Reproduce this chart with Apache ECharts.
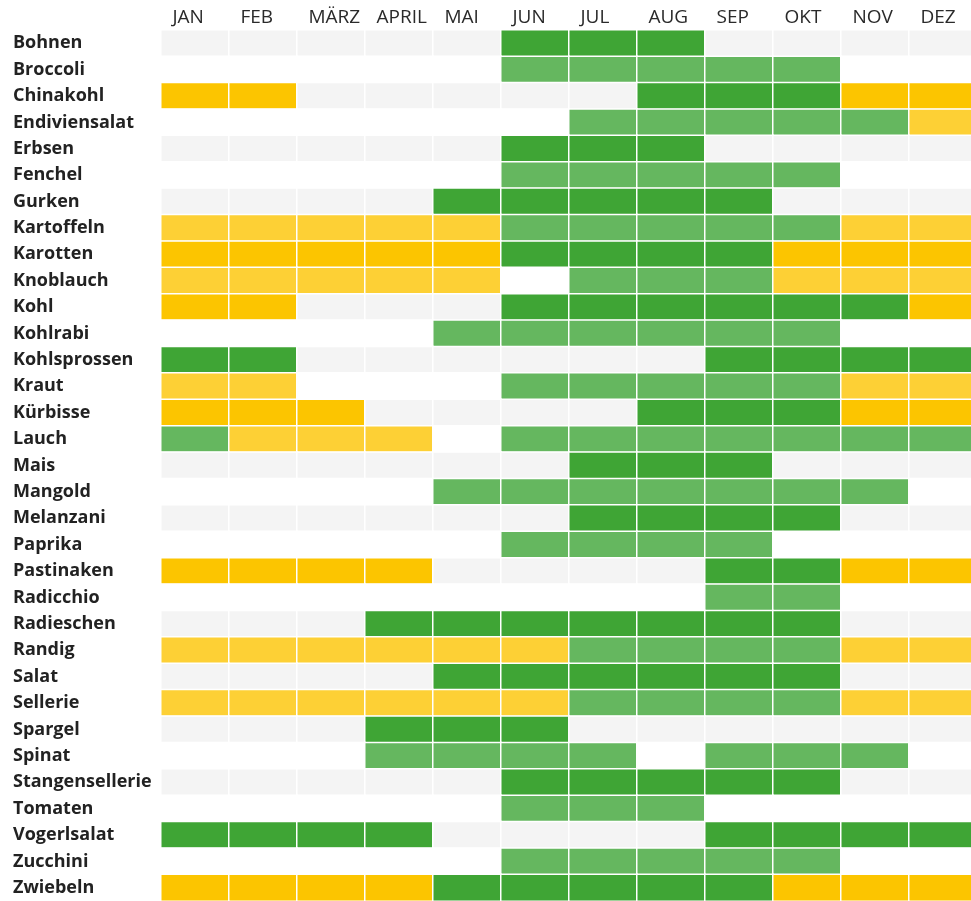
<!DOCTYPE html>
<html>
<head>
<meta charset="utf-8">
<script src="https://cdn.jsdelivr.net/npm/echarts@6/dist/echarts.min.js"></script>
<style>html,body{margin:0;padding:0;background:#fff;overflow:hidden;width:971px;height:901px;}#c{width:980px;height:901px;}</style>
</head>
<body>
<div id="c"></div>
<script>
const months = ['JAN','FEB','MÄRZ','APRIL','MAI','JUN','JUL','AUG','SEP','OKT','NOV','DEZ'];
const vegetables = ['Bohnen','Broccoli','Chinakohl','Endiviensalat','Erbsen','Fenchel','Gurken','Kartoffeln','Karotten','Knoblauch','Kohl','Kohlrabi','Kohlsprossen','Kraut','Kürbisse','Lauch','Mais','Mangold','Melanzani','Paprika','Pastinaken','Radicchio','Radieschen','Randig','Salat','Sellerie','Spargel','Spinat','Stangensellerie','Tomaten','Vogerlsalat','Zucchini','Zwiebeln'];
// 0 = none, 1 = light green, 2 = dark green, 3 = light yellow, 4 = dark yellow
const Bohnen          = [0,0,0,0,0,2,2,2,0,0,0,0];
const Broccoli        = [0,0,0,0,0,1,1,1,1,1,0,0];
const Chinakohl       = [4,4,0,0,0,0,0,2,2,2,4,4];
const Endiviensalat   = [0,0,0,0,0,0,1,1,1,1,1,3];
const Erbsen          = [0,0,0,0,0,2,2,2,0,0,0,0];
const Fenchel         = [0,0,0,0,0,1,1,1,1,1,0,0];
const Gurken          = [0,0,0,0,2,2,2,2,2,0,0,0];
const Kartoffeln      = [3,3,3,3,3,1,1,1,1,1,3,3];
const Karotten        = [4,4,4,4,4,2,2,2,2,4,4,4];
const Knoblauch       = [3,3,3,3,3,0,1,1,1,3,3,3];
const Kohl            = [4,4,0,0,0,2,2,2,2,2,2,4];
const Kohlrabi        = [0,0,0,0,1,1,1,1,1,1,0,0];
const Kohlsprossen    = [2,2,0,0,0,0,0,0,2,2,2,2];
const Kraut           = [3,3,0,0,0,1,1,1,1,1,3,3];
const Kuerbisse       = [4,4,4,0,0,0,0,2,2,2,4,4];
const Lauch           = [1,3,3,3,0,1,1,1,1,1,1,1];
const Mais            = [0,0,0,0,0,0,2,2,2,0,0,0];
const Mangold         = [0,0,0,0,1,1,1,1,1,1,1,0];
const Melanzani       = [0,0,0,0,0,0,2,2,2,2,0,0];
const Paprika         = [0,0,0,0,0,1,1,1,1,0,0,0];
const Pastinaken      = [4,4,4,4,0,0,0,0,2,2,4,4];
const Radicchio       = [0,0,0,0,0,0,0,0,1,1,0,0];
const Radieschen      = [0,0,0,2,2,2,2,2,2,2,0,0];
const Randig          = [3,3,3,3,3,3,1,1,1,1,3,3];
const Salat           = [0,0,0,0,2,2,2,2,2,2,0,0];
const Sellerie        = [3,3,3,3,3,3,1,1,1,1,3,3];
const Spargel         = [0,0,0,2,2,2,0,0,0,0,0,0];
const Spinat          = [0,0,0,1,1,1,1,0,1,1,1,0];
const Stangensellerie = [0,0,0,0,0,2,2,2,2,2,0,0];
const Tomaten         = [0,0,0,0,0,1,1,1,0,0,0,0];
const Vogerlsalat     = [2,2,2,2,0,0,0,0,2,2,2,2];
const Zucchini        = [0,0,0,0,0,1,1,1,1,1,0,0];
const Zwiebeln        = [4,4,4,4,2,2,2,2,2,4,4,4];

const rows = [Bohnen,Broccoli,Chinakohl,Endiviensalat,Erbsen,Fenchel,Gurken,Kartoffeln,Karotten,Knoblauch,Kohl,Kohlrabi,Kohlsprossen,Kraut,Kuerbisse,Lauch,Mais,Mangold,Melanzani,Paprika,Pastinaken,Radicchio,Radieschen,Randig,Salat,Sellerie,Spargel,Spinat,Stangensellerie,Tomaten,Vogerlsalat,Zucchini,Zwiebeln];

const palette = {1:'#65b75f',2:'#3fa535',3:'#fdd035',4:'#fcc500'};
const data = [];
rows.forEach((r, yi) => {
  r.forEach((v, xi) => {
    const bg = yi % 2 === 0 ? '#f4f4f4' : '#ffffff';
    data.push({value:[xi, yi, v], itemStyle:{color: v ? palette[v] : bg}});
  });
});

const chart = echarts.init(document.getElementById('c'));
chart.setOption({
  animation:false,
  grid:{left:161, top:30, width:816, height:871, containLabel:false},
  xAxis:{type:'category', data:months, position:'top',
    axisLine:{show:false}, axisTick:{show:false}, splitLine:{show:false},
    axisLabel:{margin:3, interval:0, hideOverlap:false, formatter:v => '{m|' + v + '}',
      rich:{m:{width:45, align:'left', fontSize:19, color:'#2a2a2a', fontFamily:'Open Sans', fontWeight:'normal'}}}},
  yAxis:{type:'category', data:vegetables, inverse:true,
    axisLine:{show:false}, axisTick:{show:false}, splitLine:{show:false},
    axisLabel:{margin:148, interval:0, align:'left', fontSize:18, color:'#222', fontFamily:'Open Sans', fontWeight:'bold', padding:[5,0,0,0]}},
  series:[{type:'heatmap', data:data,
    itemStyle:{borderColor:'#ffffff', borderWidth:1.5},
    emphasis:{disabled:true}, label:{show:false}}]
});
</script>
</body>
</html>
